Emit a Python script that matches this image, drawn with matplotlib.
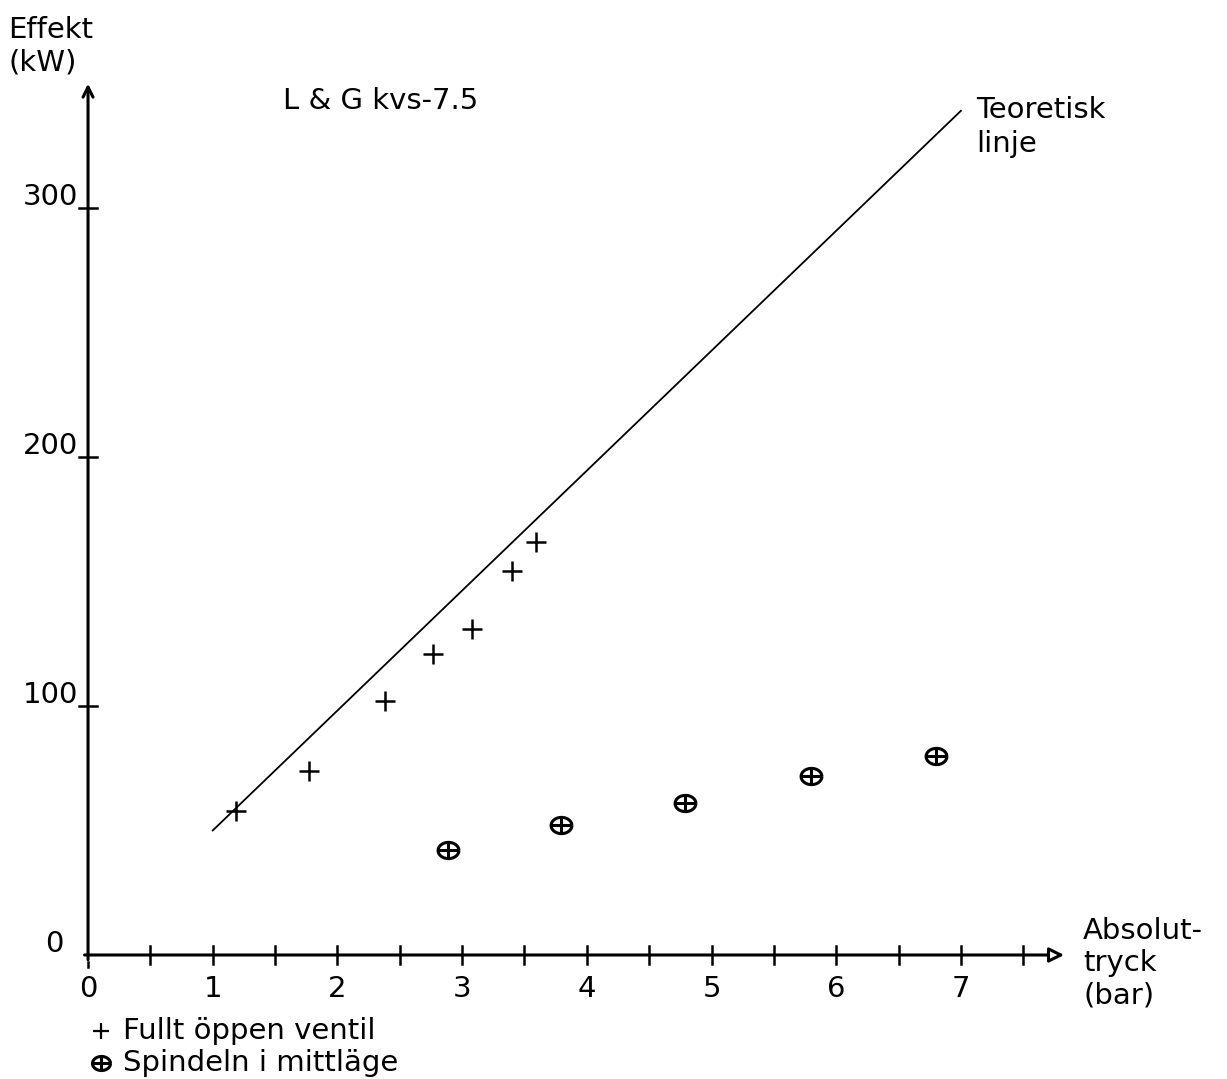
import matplotlib
matplotlib.use("Agg")
import matplotlib.pyplot as plt
from matplotlib.path import Path
import numpy as np

# Data
theory_x = [1.0, 7.0]
theory_y = [50, 339]
open_x = [1.19, 1.77, 2.38, 2.77, 3.08, 3.40, 3.59]
open_y = [58, 74, 102, 121, 131, 154, 166]
mid_x = [2.89, 3.79, 4.79, 5.80, 6.80]
mid_y = [42, 52, 61, 72, 80]
x_ticks = [0, 1, 2, 3, 4, 5, 6, 7]
x_minor = [0.5, 1.5, 2.5, 3.5, 4.5, 5.5, 6.5, 7.5]
y_ticks = [0, 100, 200, 300]

FS = 21
plt.rcParams['font.family'] = ['DejaVu Sans']

# circle-plus marker (slightly wide ellipse with a cross)
th = np.linspace(0, 2 * np.pi, 41)
ell = np.column_stack([np.cos(th), 0.78 * np.sin(th)])
verts = list(ell) + [(-1, 0), (1, 0), (0, -0.78), (0, 0.78)]
codes = [Path.MOVETO] + [Path.LINETO] * 40 + [Path.MOVETO, Path.LINETO,
                                               Path.MOVETO, Path.LINETO]
oplus = Path(verts, codes)

fig = plt.figure(figsize=(12.27, 10.79), dpi=100)
ax = fig.add_axes([0, 0, 1, 1])
ax.set_xlim(-0.706, 9.134)
ax.set_ylim(-49.8, 383.5)
ax.axis('off')

# axes lines with arrows
ax.annotate('', xy=(7.85, 0), xytext=(-0.05, 0),
            arrowprops=dict(arrowstyle='-|>', lw=2.2, color='black',
                            mutation_scale=22, fc='white'))
ax.annotate('', xy=(0, 351), xytext=(0, -3),
            arrowprops=dict(arrowstyle='->', lw=2.2, color='black',
                            mutation_scale=18))

# ticks
for t in x_ticks[1:] + x_minor:
    ax.plot([t, t], [-3.5, 3.5], color='black', lw=1.8)
ax.plot([0, 0], [-3, -5], color='black', lw=1.8)
for t in y_ticks[1:]:
    ax.plot([-0.07, 0.07], [t, t], color='black', lw=1.8)

for t in x_ticks:
    ax.text(t, -13.5, str(t), ha='center', va='center', fontsize=FS)
for t in y_ticks:
    ax.text(-0.08 if t else -0.2, t + 4.5, str(t), ha='right', va='center',
            fontsize=FS)

# theoretical line
ax.plot(theory_x, theory_y, color='black', lw=1.3)

# points
ax.plot(open_x, open_y, linestyle='none', marker='+', markersize=14,
        markeredgewidth=1.8, color='black')
ax.plot(mid_x, mid_y, linestyle='none', marker=oplus, markersize=15,
        markerfacecolor='none', markeredgewidth=2.2, color='black')

# texts
ax.text(-0.64, 364.8, 'Effekt\n(kW)', ha='left', va='center', fontsize=FS,
        linespacing=1.2)
ax.text(1.56, 343, 'L & G kvs-7.5', ha='left', va='center', fontsize=FS)
ax.text(7.12, 332.5, 'Teoretisk\nlinje', ha='left', va='center', fontsize=FS,
        linespacing=1.25)
ax.text(7.98, -3.2, 'Absolut-\ntryck\n(bar)', ha='left', va='center', fontsize=FS,
        linespacing=1.2)

# legend
lx = 0.1
ax.plot([lx], [-30.5], marker='+', markersize=11, markeredgewidth=1.6,
        color='black', linestyle='none')
ax.plot([lx], [-43.3], marker=oplus, markersize=13, markerfacecolor='none',
        markeredgewidth=2.2, color='black', linestyle='none')
ax.text(0.28, -30.5, 'Fullt öppen ventil', ha='left', va='center', fontsize=FS)
ax.text(0.28, -43.3, 'Spindeln i mittläge', ha='left', va='center', fontsize=FS)

fig.savefig('out.png', dpi=100, facecolor='white')
